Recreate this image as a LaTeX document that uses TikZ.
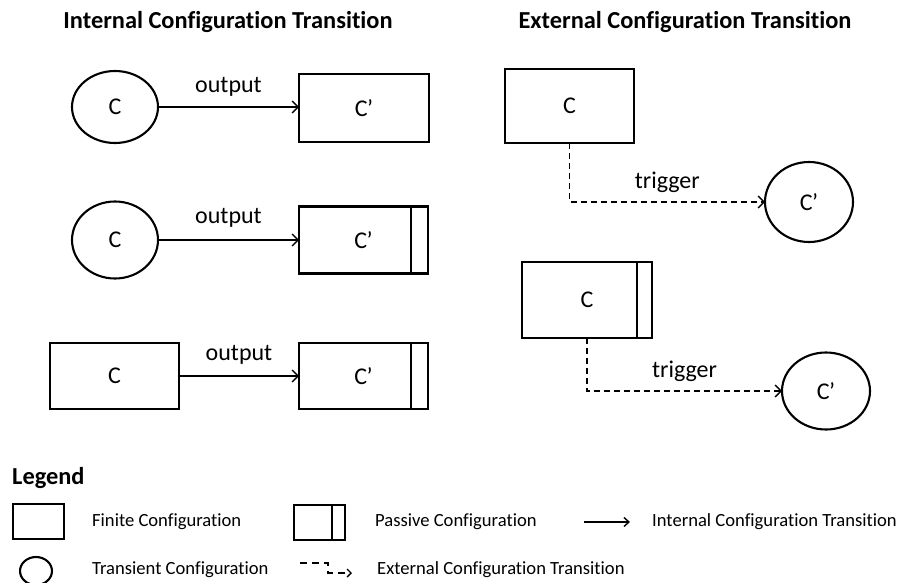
\documentclass[tikz,border=0pt]{standalone}
\usepackage{fontspec}
\setmainfont[Ligatures=NoCommon]{Carlito}
\usetikzlibrary{shapes.geometric,arrows.meta}
\newcommand{\Cp}{C\kern-0.5pt’}
\begin{document}
\begin{tikzpicture}[x=1pt,y=-1pt,
  big/.style={font=\fontsize{24}{28}\selectfont},
  small/.style={font=\fontsize{18.6}{22}\selectfont,inner sep=0,anchor=west},
  finite/.style={draw,line width=2.6pt,rectangle,inner sep=0,outer sep=0,big},
  trans/.style={draw,line width=2.1pt,ellipse,inner sep=0,outer sep=0,big},
  inner line/.style={line width=1.6pt},
  internal/.style={line width=1.5pt,-{Straight Barb[length=6pt,width=12pt,line width=1.4pt]}},
  external/.style={line width=1.5pt,dash pattern=on 6pt off 4pt,-{Straight Barb[length=6pt,width=12pt,line width=1.4pt]}},
  lbl/.style={big,inner sep=0},
  title/.style={font=\fontsize{24.4}{28}\selectfont\bfseries}
]
\useasboundingbox (0,0) rectangle (907,583);

% titles
\node[title] (t1) at (228,22) {Internal Configuration Transition};
\node[title] (t2) at (685,22) {External Configuration Transition};

% internal transitions
\node[trans, minimum width=86pt, minimum height=72pt] (c1) at (115,107) {C};
\node[finite, minimum width=130pt, minimum height=68pt] (c1p) at (364,108) {\Cp};
\draw[internal] (c1.east) -- node[lbl, above=10pt] {output} (c1p.west |- c1.east);

\node[trans, minimum width=86pt, minimum height=77pt] (c2) at (115,240) {C};
\node[finite, minimum width=129pt, minimum height=67pt] (c2p) at (363.5,240) {\Cp};
\draw[inner line] ([xshift=-17pt]c2p.north east) -- ([xshift=-17pt]c2p.south east);
\draw[internal] (c2.east) -- node[lbl, above=12pt] {output} (c2p.west);

\node[finite, minimum width=129pt, minimum height=66pt] (c3) at (114.5,376) {C};
\node[finite, minimum width=129pt, minimum height=66pt] (c3p) at (363.5,376) {\Cp};
\draw[inner line] ([xshift=-17pt]c3p.north east) -- ([xshift=-17pt]c3p.south east);
\draw[internal] (c3.east) -- node[lbl, above=11pt] {output} (c3p.west);

% external transitions
\node[finite, minimum width=129pt, minimum height=74pt] (e1) at (569.5,106) {C};
\node[trans, minimum width=88pt, minimum height=80pt] (e1p) at (809,202) {\Cp};
\draw[external] (e1.south) |- node[lbl, pos=0.75, above=9pt] {trigger} (e1p.west);

\node[finite, minimum width=130pt, minimum height=76pt] (e2) at (587,300) {C};
\draw[inner line] ([xshift=-15pt]e2.north east) -- ([xshift=-15pt]e2.south east);
\node[trans, minimum width=88pt, minimum height=77pt] (e2p) at (826,391) {\Cp};
\draw[external] (e2.south) |- node[lbl, pos=0.75, above=9pt] {trigger} (e2p.west);

% legend
\node[title, anchor=west, inner sep=0] (lg) at (12,478) {Legend};

\node[finite, minimum width=51pt, minimum height=35pt] (lr1) at (38.5,521.5) {};
\node[small] (lt1) at (92,522) {Finite Configuration};

\node[finite, minimum width=51pt, minimum height=35pt] (lr2) at (319.5,522.5) {};
\draw[inner line] ([xshift=-13pt]lr2.north east) -- ([xshift=-13pt]lr2.south east);
\node[small] (lt2) at (375,522) {Passive Configuration};

\coordinate (la1) at (584,522);
\coordinate (la2) at (630,522);
\draw[line width=1.5pt,-{Straight Barb[length=5pt,width=9pt,line width=1.4pt]}] (la1) -- (la2);
\node[small] (lt3) at (652,522) {Internal Configuration Transition};

\node[trans, minimum width=32pt, minimum height=28pt] (lc) at (36,571) {};
\node[small] (lt4) at (92,570) {Transient Configuration};

\coordinate (ld1) at (300,563);
\coordinate (ld2) at (352,573);
\draw[line width=1.5pt,dash pattern=on 7pt off 5pt,-{Straight Barb[length=4pt,width=8pt,line width=1.4pt]}] (ld1) -- ++(28,0) |- (ld2);
\node[small] (lt5) at (377,570) {External Configuration Transition};
\end{tikzpicture}
\end{document}
